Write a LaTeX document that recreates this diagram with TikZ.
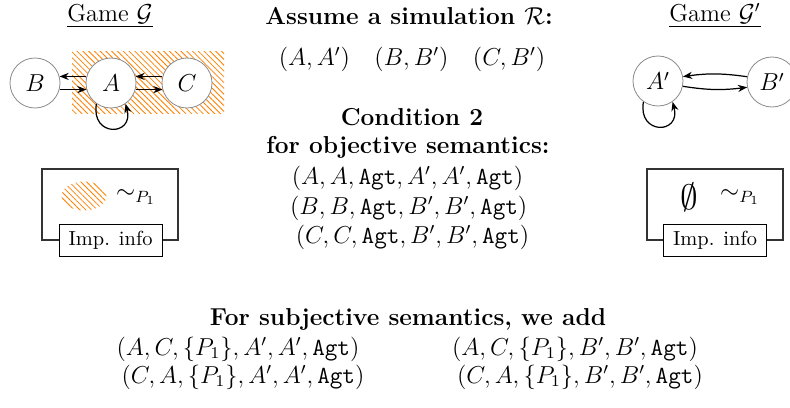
\documentclass[tikz,border=0pt]{standalone}
\usetikzlibrary{arrows.meta,patterns.meta}
\begin{document}
\begin{tikzpicture}[x=0.49pt,y=0.49pt,
 state/.style={circle,draw=black!45,fill=white,minimum size=24.5pt,inner sep=0pt,font=\large},
 tr/.style={-{Stealth[length=4.5pt,width=3.5pt]},line width=0.6pt},
 hatch/.style={pattern={Lines[angle=-45,distance=2pt,line width=0.4pt]},pattern color=orange},
 infobox/.style={draw=black!80,line width=0.7pt},
 impbox/.style={draw,fill=white,minimum width=50.5pt,minimum height=16pt,inner sep=0pt},
 ttl/.style={font=\large\bfseries,anchor=base,inner sep=0pt},
 txt/.style={font=\large,anchor=base,inner sep=0pt}]
\useasboundingbox (0,0) rectangle (790,-407);

% ---------- left game ----------
\node[txt] (tG) at (110,-21) {\underline{Game $\mathcal{G}$}};
\fill[hatch] (72,-51) rectangle (224,-113);
\node[state] (B) at (35,-83) {$B$};
\node[state] (A) at (111,-83) {$A$};
\node[state] (C) at (187,-83) {$C$};
\draw[tr] (A.165) -- (B.15);
\draw[tr] (B.-15) -- (A.-165);
\draw[tr] (C.165) -- (A.15);
\draw[tr] (A.-15) -- (C.-165);
\draw[tr] (A.-125) .. controls +(-100:34) and +(-75:34) .. (A.-55);

\draw[infobox] (42,-169) rectangle (178,-240);
\fill[hatch] (84,-196) ellipse [x radius=11pt, y radius=7.1pt];
\node[font=\large] (simL) at (136,-197) {$\sim_{P_1}$};
\node[impbox] (impL) at (110.5,-240.5) {Imp. info};

% ---------- right game ----------
\node[txt] (tGp) at (715,-21) {\underline{Game $\mathcal{G}'$}};
\node[state] (Ap) at (658,-81) {$A'$};
\node[state] (Bp) at (772,-82) {$B'$};
\draw[tr] (Bp.168) to[bend right=8] (Ap.10);
\draw[tr] (Ap.-12) to[bend right=8] (Bp.-168);
\draw[tr] (Ap.-125) .. controls +(-100:34) and +(-75:34) .. (Ap.-55);

\draw[infobox] (647,-169) rectangle (783,-240);
\node[font=\LARGE] (empt) at (689,-197) {$\emptyset$};
\node[font=\large] (simR) at (740,-197) {$\sim_{P_1}$};
\node[impbox] (impR) at (715,-240.5) {Imp. info};

% ---------- centre ----------
\node[ttl] (assume) at (409,-24) {Assume a simulation $\mathcal{R}$:};
\node[txt] (rel) at (412,-65) {$(A,A')\quad(B,B')\quad(C,B')$};
\node[ttl] (cond) at (412,-125) {Condition 2};
\node[ttl] (obj) at (408,-153) {for objective semantics:};
\node[txt] (o1) at (407.5,-184) {$(A,A,\mathtt{Agt},A',A',\mathtt{Agt})$};
\node[txt] (o2) at (408.7,-214) {$(B,B,\mathtt{Agt},B',B',\mathtt{Agt})$};
\node[txt] (o3) at (412.5,-243) {$(C,C,\mathtt{Agt},B',B',\mathtt{Agt})$};

% ---------- bottom ----------
\node[ttl] (subj) at (408,-325) {For subjective semantics, we add};
\node[txt] (s1) at (238,-355) {$(A,C,\{P_1\},A',A',\mathtt{Agt})$};
\node[txt] (s2) at (575,-355) {$(A,C,\{P_1\},B',B',\mathtt{Agt})$};
\node[txt] (s3) at (243,-383) {$(C,A,\{P_1\},A',A',\mathtt{Agt})$};
\node[txt] (s4) at (580,-383) {$(C,A,\{P_1\},B',B',\mathtt{Agt})$};
\end{tikzpicture}
\end{document}
